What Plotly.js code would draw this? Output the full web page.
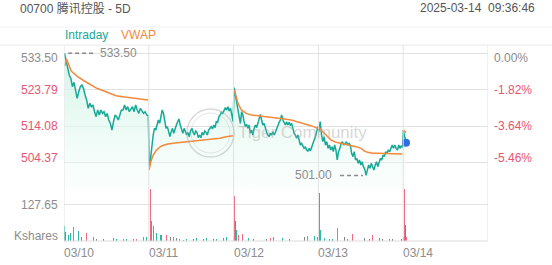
<!DOCTYPE html>
<html><head><meta charset="utf-8">
<script src="https://cdn.plot.ly/plotly-3.0.1.min.js"></script>
<style>html,body{margin:0;padding:0;background:#fff;}#chart{width:552px;height:265px;}</style>
</head><body><div id="chart"></div>
<script>
// ---- data ----
const dayLabels = ['03/10','03/11','03/12','03/13','03/14'];
const prevClose = 533.50;
const pctTicks = [533.50, 523.79, 514.08, 504.37];
const pctLabels = ['0.00%','-1.82%','-3.64%','-5.46%'];
const volTick = 127.65;

const intraday1 = [533.5,531.27,529.05,527.72,526.84,524.62,525.77,523.73,521.51,523.29,524.62,525.06,524.18,522.40,521.07,518.85,520.18,519.29,519.74,517.96,516.63,518.41,517.08,518.41,517.52,517.96,516.63,517.52,515.75,514.86,513.08,515.30,517.08,516.63,515.75,517.08,518.41,518.41,519.74,518.41,519.29,517.96,518.85,519.29,517.96,519.74,518.41,517.52,518.85,517.96,517.52,517.96,517.08,516.90];
const intraday2 = [503.32,505.54,509.09,511.75,513.53,513.08,514.41,515.75,514.86,516.63,518.41,517.52,515.30,513.53,513.97,512.20,511.31,512.64,513.53,512.20,513.53,514.41,515.30,516.01,514.41,513.08,512.20,513.53,512.64,511.75,512.46,511.31,512.82,513.53,512.46,511.75,512.82,512.46,511.04,511.75,511.04,512.46,511.75,512.82,512.46,511.75,513.08,513.53,513.97,513.35,514.41,513.71,515.30,515.12,516.63,517.08,517.96,517.52,518.41,519.03,518.41,519.29,518.14,518.85,517.08,515.30];
const intraday3 = [524.35,522.40,520.18,517.96,516.19,514.86,517.96,517.08,515.30,513.97,514.59,513.53,514.41,512.20,513.08,511.75,513.53,514.41,513.71,515.12,516.63,517.25,515.75,514.41,514.86,513.53,512.46,511.75,511.31,512.20,511.75,512.64,511.75,512.46,513.53,514.41,515.12,515.75,517.08,515.75,515.12,514.41,515.30,514.41,515.12,514.41,514.86,513.53,512.20,511.75,510.87,511.75,510.42,509.09,509.53,508.65,508.20,508.65,507.76,507.49,508.20,507.49,508.65,509.09,510.42,511.31,512.64,513.97];
const intraday4 = [512.64,515.30,511.75,509.98,511.31,509.09,509.98,508.20,509.09,507.76,508.65,507.32,509.09,507.76,505.10,507.32,508.20,509.53,509.98,509.09,509.53,509.98,509.09,509.53,509.09,506.87,505.99,507.32,505.10,505.54,504.21,505.10,503.77,504.65,503.32,502.70,501.00,502.88,503.77,502.88,504.21,503.32,502.44,503.77,504.65,503.32,504.65,505.54,505.10,506.43,505.99,507.32,506.87,507.76,507.32,508.20,509.09,508.20,509.09,508.20,507.76,509.09,508.20,508.91,508.38];
const intraday5 = [513.08,511.75,510.40,509.70];
const intraday5Min = [0,4,8,11];

const vwap1Min = [4,10,28,53,79,103,128,153,179,203,228,252,278,303,327];
const vwap1 = [530.21,531.98,528.79,527.28,526.13,525.06,524.18,523.55,522.75,522.22,521.96,521.78,521.60,521.34,521.07];
const vwap2Min = [1,8,17,30,49,69,94,120,146,172,198,224,250,276,301,327];
const vwap2 = [502.44,504.65,506.43,507.76,508.82,509.27,509.53,509.71,509.98,510.16,510.24,510.42,510.60,510.87,511.31,511.58];
const vwap3Min = [3,8,17,30,49,69,94,120,146,172,198,224,250,276,301,327];
const vwap3 = [523.73,522.40,520.18,518.41,517.52,517.08,516.90,516.63,516.37,516.19,516.01,515.75,515.30,514.86,514.24,513.53];
const vwap4Min = [0,10,30,49,69,88,107,127,146,166,179,192,211,230,256,282,308,327];
const vwap4 = [513.97,513.08,511.75,510.42,509.80,509.53,509.27,508.91,508.65,508.20,507.49,507.14,506.87,506.87,506.78,506.78,506.69,506.69];
const vwap5Min = [0,11];
const vwap5 = [513.08,512.40];

// volume: minute from first open, thousand shares, direction (u=up,d=down,n=flat)
const volMin = [1,7,17,26,36,47,57,69,82,88,101,114,127,140,153,179,192,205,218,231,244,257,270,283,296,309,322,
 331,335,341,348,354,361,374,380,393,400,413,426,439,451,464,477,490,503,516,529,542,555,568,581,594,607,620,633,646,659,
 663,667,672,678,685,695,704,717,737,763,789,802,815,825,851,877,903,922,935,948,961,974,987,
 994,998,1004,1013,1033,1046,1065,1078,1091,1104,1124,1136,1156,1169,1188,1201,1214,1227,1240,1266,1279,1292,1312,1321,
 1324,1328,1333];
const volVal = [53,33,21,27,48,15,35,13,39,27,13,15,6,6,8,18,9,8,9,7,8,9,7,8,11,13,15,
 181,182.36,69,51,33,27,21,21,27,21,15,13,9,6,4,6,7,6,9,12,8,9,11,8,7,13,11,15,13,18,
 157,69,39,21,15,25,15,9,8,7,6,9,13,6,9,7,8,25,13,18,13,18,15,
 169,39,15,9,8,8,47,18,13,8,24,13,21,9,6,21,8,11,8,6,8,7,8,15,
 181,57,13];
const volDir = ['u','n','u','u','d','n','u','n','d','d','n','d','n','u','n','d','n','u','u','d','u','n','u','d','n','u','u',
 'd','d','u','u','n','u','u','u','d','d','n','d','n','u','n','u','d','n','u','d','n','u','d','n','u','u','n','u','n','u',
 'd','n','u','d','n','d','n','u','n','u','n','d','u','n','u','n','u','d','n','d','u','u','u',
 'u','u','n','u','n','u','d','u','n','u','d','n','d','n','u','d','n','u','n','u','n','u','n','n',
 'd','n','d'];

// ---- build ----
const DAY = 330;
const TEAL = '#17a997', ORANGE = '#f3893b', PINK = '#e8566f', GREY = '#8c8c8c';
const FONT = 'Liberation Sans, Arial, Noto Sans CJK SC, sans-serif';

const tx = [], ty = [];
[intraday1, intraday2, intraday3, intraday4].forEach((arr, d) => {
  const n = arr.length;
  arr.forEach((v, i) => { tx.push(d*DAY + 2 + i*(326/(n-1))); ty.push(v); });
});
intraday5.forEach((v, i) => { tx.push(4*DAY + intraday5Min[i]); ty.push(v); });

const vx = [], vy = [];
[[vwap1Min,vwap1],[vwap2Min,vwap2],[vwap3Min,vwap3],[vwap4Min,vwap4],[vwap5Min,vwap5]].forEach(([m,v], d) => {
  m.forEach((mm, i) => { vx.push(d*DAY + mm); vy.push(v[i]); });
  vx.push(null); vy.push(null);
});

const colMap = {u:'#2dbba6', d:'#ef6a80', n:'#7d8886'};

const yMin = 497.38, yMax = 535.71;
const volDomTop = 52/196;

const traces = [
  {x: tx, y: ty, type:'scatter', mode:'lines', line:{color:TEAL, width:1.5},
   fill:'tozeroy', fillcolor:'rgba(214,246,234,0.6)',
   fillgradient:{type:'vertical', start: yMin, stop: prevClose,
     colorscale:[[0,'rgba(240,252,247,0.3)'],[1,'rgba(205,243,228,0.95)']]},
   hoverinfo:'skip', xaxis:'x', yaxis:'y'},
  {x: vx, y: vy, type:'scatter', mode:'lines', line:{color:ORANGE, width:1.5}, connectgaps:false,
   hoverinfo:'skip', xaxis:'x', yaxis:'y'},
  {x: [tx[tx.length-1]], y: [ty[ty.length-1]], type:'scatter', mode:'markers',
   marker:{color:'#2f6fdf', size:8}, xaxis:'x', yaxis:'y', hoverinfo:'skip'},
  {x: volMin, y: volVal, type:'bar', width: 3.2, marker:{color: volDir.map(d => colMap[d]), line:{width:0}},
   xaxis:'x2', yaxis:'y2', hoverinfo:'skip'}
];

// high / low markers from data
const hiVal = Math.max(...ty), hiIdx = ty.indexOf(hiVal);
const loVal = Math.min(...ty), loIdx = ty.indexOf(loVal);
const hiX = tx[hiIdx], loX = tx[loIdx];

const py = px => (241 - px) / 196;   // paper y from pixel
const pxx = px => (px - 64) / 424;   // paper x from pixel

const shapes = [];
for (let d = 0; d <= 5; d++) {
  shapes.push({type:'line', xref:'x', yref:'paper', x0:d*DAY, x1:d*DAY, y0:0, y1:1, line:{color:'#e2e2e2', width:1}});
}
shapes.push({type:'line', xref:'paper', yref:'paper', x0:0, x1:1, y0:0, y1:0, line:{color:'#dcdcdc', width:1}});
shapes.push({type:'line', xref:'paper', yref:'paper', x0:pxx(0), x1:pxx(552), y0:py(45), y1:py(45), line:{color:'#e8e8e8', width:1}});
shapes.push({type:'line', xref:'paper', yref:'paper', x0:pxx(0), x1:pxx(552), y0:py(27), y1:py(27), line:{color:'#f2f2f2', width:1}});
shapes.push({type:'line', xref:'x', yref:'y', x0:hiX+14, x1:hiX+119, y0:hiVal, y1:hiVal, line:{color:'#8a8a8a', width:1.5, dash:'4px,3px'}});
shapes.push({type:'line', xref:'x', yref:'y', x0:loX-101, x1:loX-12, y0:loVal, y1:loVal, line:{color:'#8a8a8a', width:1.5, dash:'4px,3px'}});
// watermark ring
shapes.push({type:'circle', xref:'paper', yref:'paper', x0:pxx(187), x1:pxx(234), y0:py(157), y1:py(109), line:{color:'rgba(170,170,170,0.45)', width:1.5}});
shapes.push({type:'circle', xref:'paper', yref:'paper', x0:pxx(191), x1:pxx(230), y0:py(153), y1:py(113), line:{color:'rgba(170,170,170,0.3)', width:1}});

const ann = [];
const A = (o) => ann.push(Object.assign({showarrow:false, font:{family:FONT, size:12, color:GREY}}, o));

A({text:'00700 腾讯控股 - 5D', xref:'paper', yref:'paper', x:pxx(75), y:py(8), xanchor:'center', yanchor:'middle', font:{family:FONT, size:12, color:'#555'}});
A({text:'2025-03-14\u00a0 09:36:46', xref:'paper', yref:'paper', x:pxx(537), y:py(8), xanchor:'right', align:'right', yanchor:'middle', font:{family:FONT, size:12, color:'#555'}});
A({text:'Intraday', xref:'paper', yref:'paper', x:pxx(63), y:py(35), xanchor:'left', yanchor:'middle', font:{family:FONT, size:12, color:TEAL}});
A({text:'VWAP', xref:'paper', yref:'paper', x:pxx(119), y:py(35), xanchor:'left', yanchor:'middle', font:{family:FONT, size:12, color:ORANGE}});

pctTicks.forEach((v, i) => {
  const shift = i === 0 ? -5 : (i === pctTicks.length-1 ? 5 : 0);
  const c = i === 0 ? GREY : PINK;
  A({text: v.toFixed(2), xref:'paper', yref:'y', x:0, y:v, xanchor:'right', yanchor:'middle', xshift:-4, yshift:shift, font:{family:FONT, size:12, color:c}});
  A({text: pctLabels[i], xref:'paper', yref:'y', x:1, y:v, xanchor:'left', yanchor:'middle', xshift:4, yshift:shift, font:{family:FONT, size:12, color:c}});
});
A({text: volTick.toFixed(2), xref:'paper', yref:'y2', x:0, y:volTick, xanchor:'right', yanchor:'middle', xshift:-4, yshift:-0.5});
A({text: 'Kshares', xref:'paper', yref:'y2', x:0, y:0, xanchor:'right', yanchor:'middle', xshift:-4, yshift:5.5});

dayLabels.forEach((t, d) => {
  A({text:t, xref:'x2', yref:'paper', x:d*DAY, y:0, xanchor:'left', yanchor:'top', xshift:-2, yshift:-3});
});

A({text: hiVal.toFixed(2), xref:'x', yref:'y', x:hiX+130, y:hiVal, xanchor:'left', yanchor:'middle', yshift:0});
A({text: loVal.toFixed(2), xref:'x', yref:'y', x:loX-124, y:loVal, xanchor:'right', yanchor:'middle'});
A({text:'Tiger Community', xref:'paper', yref:'paper', x:pxx(236), y:py(132.5), xanchor:'left', yanchor:'middle', font:{family:FONT, size:17, color:'rgba(165,165,165,0.45)'}});

const layout = {
  width:552, height:265, margin:{l:64, r:64, t:45, b:24},
  paper_bgcolor:'#fff', plot_bgcolor:'rgba(0,0,0,0)', showlegend:false, bargap:0,
  xaxis:{range:[0,5*DAY], showgrid:false, zeroline:false, showticklabels:false, ticks:'', anchor:'y', fixedrange:true},
  xaxis2:{range:[0,5*DAY], showgrid:false, zeroline:false, showticklabels:false, ticks:'', anchor:'y2', matches:'x', fixedrange:true},
  yaxis:{domain:[volDomTop,1], range:[yMin,yMax], tickvals:pctTicks, showticklabels:false, gridcolor:'#e2e2e2', zeroline:false, ticks:'', fixedrange:true},
  yaxis2:{domain:[0,volDomTop], range:[0,182.36], tickvals:[volTick], showticklabels:false, gridcolor:'#e2e2e2', zeroline:false, ticks:'', fixedrange:true},
  shapes: shapes, annotations: ann
};
Plotly.newPlot('chart', traces, layout, {staticPlot:true, displayModeBar:false});
</script></body></html>
